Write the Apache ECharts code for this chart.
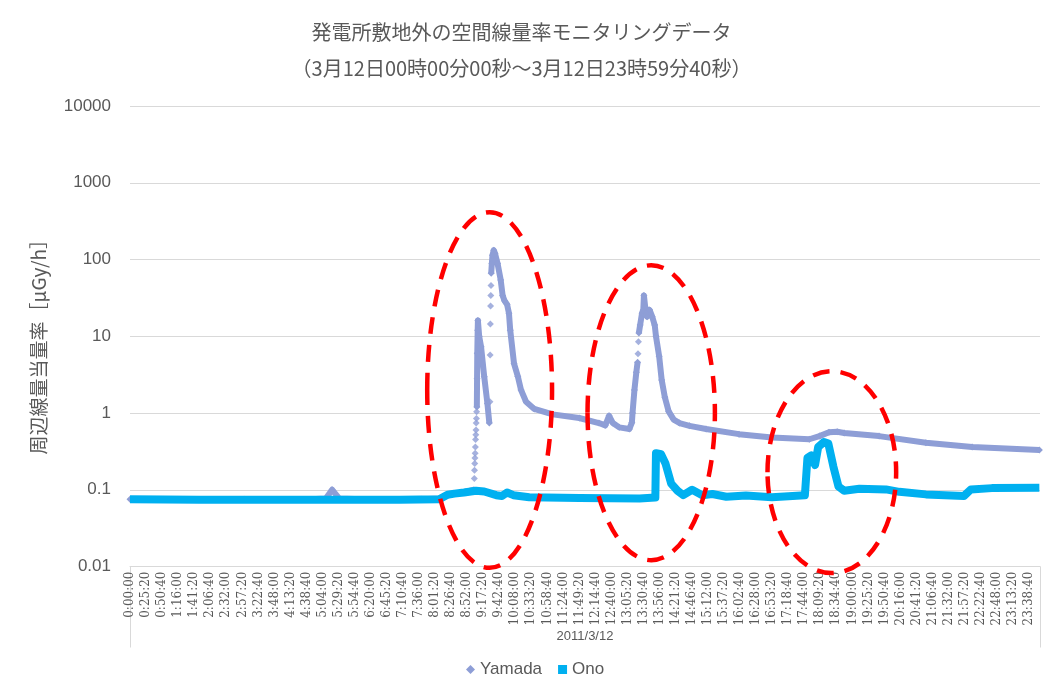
<!DOCTYPE html>
<html>
<head>
<meta charset="utf-8">
<script src="https://cdn.jsdelivr.net/npm/echarts@6/dist/echarts.min.js"></script>
<style>
  html, body { margin: 0; padding: 0; background: #ffffff; }
  #chart { width: 1043px; height: 692px; }
</style>
</head>
<body>
<div id="chart"></div>
<script>
// ---- chart text ----
const titleText = '発電所敷地外の空間線量率モニタリングデータ\n（3月12日00時00分00秒～3月12日23時59分40秒）';
const yAxisTitle = '周辺線量当量率［μGy/h］';
const dateLabel = ['2011/3/12'];
const seriesNames = ['Yamada', 'Ono'];

// ---- Yamada: main trace (null = gap in the trace) ----
const yamadaTimes = [
  '0:00', '1:30', '3:00', '4:30', '5:09', '5:19', '5:30', '6:30', '7:40', '8:10',
  '8:25', '8:50', '9:02:40', '9:05', '9:07:20', '9:07:40', '9:08:00', '9:08:40', '9:09:00', '9:11:00',
  '9:14', '9:19', '9:24', '9:27', '9:28', '9:30', '9:31', '9:32', '9:34', '9:36',
  '9:40', '9:45', '9:48', '9:51', '9:55', '9:58', '10:00', '10:06', '10:12', '10:17',
  '10:25', '10:38', '11:07', '11:49', '12:20', '12:30', '12:36', '12:42', '12:52', '13:08',
  '13:12', '13:13', '13:16', '13:19', '13:21', '13:22', '13:23', '13:25', '13:28', '13:30',
  '13:31', '13:33', '13:36', '13:40', '13:44', '13:48', '13:50', '13:55', '13:59', '14:04',
  '14:10', '14:18', '14:27', '14:43', '15:09', '16:01', '16:53', '17:52', '18:08', '18:23',
  '18:36', '18:47', '19:42', '20:56', '22:09', '23:55'
];
const yamadaValues = [
  0.075, 0.074, 0.075, 0.074, 0.077, 0.10, 0.077, 0.074, 0.075, 0.077,
  0.087, 0.094, 0.10, null, 1.2, 2.8, 6.0, 12, 16, 10,
  7.3, 2.96, 1.33, 0.74, null, 66, 89, 114, 132, 120,
  89, 54, 34, 29, 26, 20, 12, 4.4, 3.0, 2.0,
  1.4, 1.13, 0.96, 0.86, 0.74, 0.69, 0.92, 0.74, 0.65, 0.62,
  0.75, 1.0, 2.0, 3.4, 4.6, null, 11, 14, 20, 22,
  34, 24, 18, 22, 18, 14, 10, 5.5, 2.7, 1.6,
  1.05, 0.82, 0.74, 0.68, 0.62, 0.53, 0.48, 0.455, 0.50, 0.56,
  0.57, 0.55, 0.50, 0.41, 0.36, 0.33
];

// ---- Yamada: separate readings during the steep rises ----
const yamadaDotTimes = [
  '9:03:20', '9:03:40', '9:04:00', '9:04:20', '9:04:40', '9:05:00', '9:05:20', '9:05:40', '9:06:00', '9:06:20',
  '9:06:40', '9:07:00', '9:28:00', '9:28:20', '9:28:40', '9:29:00', '9:29:20', '9:29:40', '13:21:40', '13:22:20'
];
const yamadaDotValues = [
  0.14, 0.18, 0.22, 0.26, 0.30, 0.36, 0.45, 0.52, 0.60, 0.74,
  0.85, 1.04, 1.4, 5.7, 14.4, 24.7, 34, 46, 5.9, 8.5
];

// ---- Ono ----
const onoTimes = [
  '0:00', '1:49', '4:27', '7:05', '8:08', '8:21', '8:32', '8:47', '9:06', '9:19',
  '9:38', '9:47', '9:55', '10:05', '10:30', '11:49', '13:24', '13:49', '13:50', '13:58',
  '14:05', '14:14', '14:24', '14:33', '14:47', '15:03', '15:19', '15:41', '16:12', '16:53',
  '17:45', '17:49', '17:55', '18:01', '18:06', '18:15', '18:22', '18:30', '18:38', '18:47',
  '19:11', '19:53', '20:14', '20:56', '21:56', '22:07', '22:40', '23:55'
];
const onoValues = [
  0.075, 0.074, 0.074, 0.074, 0.075, 0.086, 0.089, 0.092, 0.097, 0.095,
  0.085, 0.083, 0.092, 0.085, 0.080, 0.078, 0.077, 0.079, 0.30, 0.29,
  0.22, 0.12, 0.097, 0.085, 0.10, 0.085, 0.088, 0.081, 0.084, 0.080,
  0.085, 0.26, 0.28, 0.21, 0.36, 0.42, 0.40, 0.20, 0.11, 0.097,
  0.103, 0.101, 0.094, 0.087, 0.083, 0.101, 0.105, 0.106
];

// ---- dashed ellipses drawn around the three episodes (time span, value span) ----
const circledFrom = ['7:49', '12:02', '16:46'];
const circledTo = ['11:06', '15:23', '20:09'];
const circledTop = [413, 84, 3.5];
const circledBottom = [0.0096, 0.0121, 0.0082];

// time of day "h:mm[:ss]" -> seconds
function toSec(s) {
  const p = s.split(':').map(Number);
  return p[0] * 3600 + p[1] * 60 + (p[2] || 0);
}
function fmtSec(v) {
  const h = Math.floor(v / 3600), m = Math.floor((v % 3600) / 60), s = Math.round(v % 60);
  return h + ':' + String(m).padStart(2, '0') + ':' + String(s).padStart(2, '0');
}
function pairs(times, values) {
  return times.map((t, i) => [toSec(t), values[i]]);
}

const GREY = '#595959';
const GRIDLINE = '#D9D9D9';
const YAMADA = '#8E9ED6';
const ONO = '#00B0F0';

const chart = echarts.init(document.getElementById('chart'), null, { renderer: 'canvas' });

chart.setOption({
  animation: false,
  backgroundColor: '#ffffff',
  title: {
    text: titleText,
    left: 'center',
    top: 14,
    padding: [0, 0, 0, 20],
    textStyle: {
      fontFamily: 'Noto Sans CJK JP',
      fontSize: 20,
      fontWeight: 'normal',
      color: GREY,
      lineHeight: 36
    }
  },
  grid: { left: 130, right: 3, top: 106, bottom: 125.5, containLabel: false },
  legend: {
    left: 461,
    bottom: 9,
    itemWidth: 9,
    itemHeight: 9,
    itemGap: 16,
    textStyle: { fontFamily: 'Liberation Sans', fontSize: 17, color: GREY },
    data: [
      { name: seriesNames[0], icon: 'diamond' },
      { name: seriesNames[1], icon: 'rect' }
    ]
  },
  xAxis: [
    {
      type: 'value',
      min: 0,
      max: 86160,
      interval: 1520,
      position: 'bottom',
      axisLine: { show: true, lineStyle: { color: GRIDLINE, width: 1 } },
      axisTick: { show: false },
      splitLine: { show: false },
      axisLabel: {
        rotate: 90,
        margin: 5,
        showMaxLabel: false,
        fontFamily: 'DejaVu Serif',
        fontSize: 12,
        color: GREY,
        formatter: fmtSec
      }
    },
    {
      type: 'category',
      data: dateLabel,
      position: 'bottom',
      boundaryGap: true,
      axisLine: { show: false },
      axisTick: { show: true, length: 81, lineStyle: { color: GRIDLINE, width: 1 } },
      axisLabel: {
        margin: 63,
        fontFamily: 'Liberation Sans',
        fontSize: 13,
        color: GREY
      }
    }
  ],
  yAxis: {
    type: 'log',
    logBase: 10,
    min: 0.01,
    max: 10000,
    name: yAxisTitle,
    nameLocation: 'middle',
    nameRotate: 90,
    nameGap: 82,
    nameTextStyle: { fontFamily: 'Noto Sans CJK JP', fontSize: 19, color: GREY, padding: [0, 0, 0, -12] },
    axisLine: { show: false },
    axisTick: { show: false },
    splitLine: { show: true, lineStyle: { color: GRIDLINE, width: 1 } },
    axisLabel: {
      margin: 19,
      fontFamily: 'Liberation Sans',
      fontSize: 17,
      color: GREY,
      formatter: function (v) {
        const e = Math.round(Math.log10(v));
        return e >= 0 ? String(Math.pow(10, e)) : Math.pow(10, e).toFixed(-e);
      }
    }
  },
  series: [
    {
      name: seriesNames[0],
      type: 'line',
      xAxisIndex: 0,
      data: pairs(yamadaTimes, yamadaValues),
      showSymbol: true,
      showAllSymbol: true,
      symbol: 'diamond',
      symbolSize: 7,
      connectNulls: false,
      lineStyle: { color: YAMADA, width: 6, join: 'round' },
      itemStyle: { color: YAMADA },
      z: 2
    },
    {
      name: seriesNames[0],
      type: 'scatter',
      xAxisIndex: 0,
      data: pairs(yamadaDotTimes, yamadaDotValues),
      symbol: 'diamond',
      symbolSize: 7,
      itemStyle: { color: YAMADA },
      z: 2
    },
    {
      name: seriesNames[1],
      type: 'line',
      xAxisIndex: 0,
      data: pairs(onoTimes, onoValues),
      showSymbol: false,
      lineStyle: { color: ONO, width: 8, join: 'round' },
      itemStyle: { color: ONO },
      z: 3
    }
  ]
});

// dashed red ellipses, placed through the axes' own scales
const ellipses = circledFrom.map((f, i) => {
  const a = chart.convertToPixel({ xAxisIndex: 0, yAxisIndex: 0 }, [toSec(f), circledTop[i]]);
  const b = chart.convertToPixel({ xAxisIndex: 0, yAxisIndex: 0 }, [toSec(circledTo[i]), circledBottom[i]]);
  return {
    type: 'ellipse',
    z: 10,
    silent: true,
    shape: { cx: (a[0] + b[0]) / 2, cy: (a[1] + b[1]) / 2, rx: Math.abs(b[0] - a[0]) / 2, ry: Math.abs(b[1] - a[1]) / 2 },
    style: { fill: 'none', stroke: '#FF0000', lineWidth: 4.5, lineDash: [17, 11] }
  };
});
chart.setOption({ graphic: ellipses });
</script>
</body>
</html>
